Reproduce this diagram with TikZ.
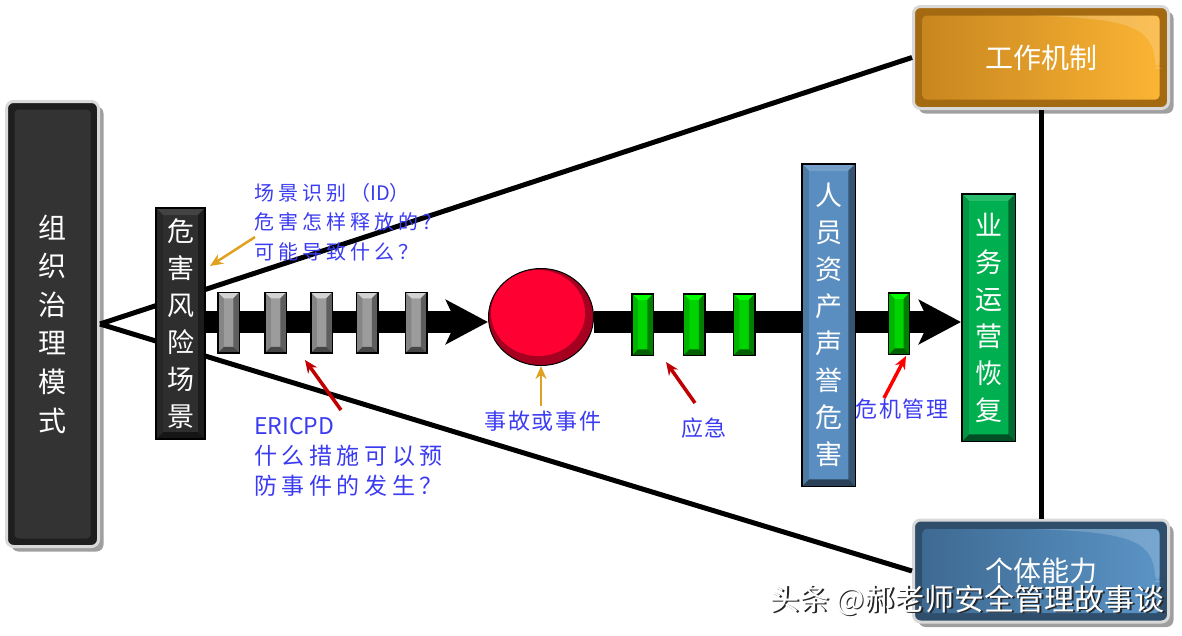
\documentclass[tikz,border=0pt]{standalone}
\usepackage{fontspec}
\newfontfamily\cjk{Noto Sans CJK SC}
\newfontfamily\cjkwide[LetterSpace=20]{Noto Sans CJK SC}
\newfontfamily\cjknarrow[LetterSpace=8]{Noto Sans CJK SC}
\usepackage{tikz}
\usetikzlibrary{arrows.meta,shapes.geometric,shadows}

\definecolor{govdark}{HTML}{1E1E1E}
\definecolor{govface}{HTML}{333333}
\definecolor{mechdark}{HTML}{A36A12}
\definecolor{mechleft}{HTML}{C8861F}
\definecolor{mechright}{HTML}{FBB434}
\definecolor{abilitydark}{HTML}{2E4E6C}
\definecolor{abilityleft}{HTML}{3E6A92}
\definecolor{abilityright}{HTML}{5A94C6}
\definecolor{scenedark}{HTML}{2E2E2E}
\definecolor{barriergray}{HTML}{9C9C9C}
\definecolor{resgreen}{HTML}{00D400}
\definecolor{peopleblue}{HTML}{5B8EC0}
\definecolor{recgreen}{HTML}{00B050}
\definecolor{eventred}{HTML}{FF0033}
\definecolor{labelblue}{HTML}{3B3BF2}
\definecolor{pointerred}{HTML}{C00000}
\definecolor{pointerorange}{HTML}{E0A020}

\tikzset{
  bevel size/.store in=\bv,
  bevel size=7pt,
  bevel/.style n args={2}{
    shape=rectangle,
    draw=black,
    line width=1.5pt,
    fill=#1,
    inner sep=0pt,
    text=white,
    align=center,
    path picture={
      \coordinate (bnw) at (path picture bounding box.north west);
      \coordinate (bne) at (path picture bounding box.north east);
      \coordinate (bsw) at (path picture bounding box.south west);
      \coordinate (bse) at (path picture bounding box.south east);
      \fill[#2] (bnw) -- (bne) -- ([shift={(-\bv,-\bv)}]bne)
        -- ([shift={(\bv,-\bv)}]bnw) -- cycle;
      \fill[#1!60!black] (bne) -- (bse) -- ([shift={(-\bv,\bv)}]bse)
        -- ([shift={(-\bv,-\bv)}]bne) -- cycle;
      \fill[#1!45!black] (bsw) -- (bse) -- ([shift={(-\bv,\bv)}]bse)
        -- ([shift={(\bv,\bv)}]bsw) -- cycle;
      \fill[#1!85!black] (bnw) -- (bsw) -- ([shift={(\bv,\bv)}]bsw)
        -- ([shift={(\bv,-\bv)}]bnw) -- cycle;
    }
  },
  panel/.style n args={3}{
    shape=rectangle,
    rounded corners=7pt,
    draw=gray!30,
    line width=3pt,
    fill=#1,
    minimum width=255pt,
    minimum height=102pt,
    text=white,
    font=\cjk\fontsize{28}{34}\selectfont,
    drop shadow={shadow xshift=5pt, shadow yshift=-5pt, fill=gray!75, opacity=1},
    path picture={
      \coordinate (pne) at (path picture bounding box.north east);
      \shade[left color=#2, right color=#3, rounded corners=4pt]
        ([shift={(9pt,9pt)}]path picture bounding box.south west) rectangle
        ([shift={(-9pt,-9pt)}]pne);
      % page curl highlight
      \fill[white, opacity=0.18] ([shift={(-140pt,-9pt)}]pne)
        .. controls ([shift={(-35pt,-12pt)}]pne) and ([shift={(-16pt,-22pt)}]pne)
        .. ([shift={(-13pt,-62pt)}]pne) -- ([shift={(-9pt,-62pt)}]pne)
        -- ([shift={(-9pt,-9pt)}]pne) -- cycle;
    }
  },
  govbox/.style={
    panel={govdark}{govface}{govface},
    minimum width=92pt,
    minimum height=445pt,
    align=center,
    font=\cjk\fontsize{28}{38.6}\selectfont,
    path picture={
      \fill[govface, rounded corners=4pt]
        ([shift={(8pt,8pt)}]path picture bounding box.south west) rectangle
        ([shift={(-8pt,-8pt)}]path picture bounding box.north east);
    }
  },
  boxtext/.style={
    font=\cjk\fontsize{27}{37}\selectfont
  },
  event/.style={
    ellipse,
    draw=black,
    line width=1pt,
    minimum width=105pt,
    minimum height=97pt,
    inner sep=0pt,
    fill=eventred!65!black,
    path picture={
      \fill[eventred] ([shift={(-3pt,4pt)}]path picture bounding box.center)
        ellipse (47pt and 43pt);
    }
  },
  spine/.style={
    line width=22pt,
    -{Stealth[length=42pt, width=44pt, inset=10pt]}
  },
  tieline/.style={
    line width=5pt
  },
  pointer/.style={
    draw=#1,
    line width=3.5pt,
    -{Stealth[length=13pt, width=11pt]}
  },
  note/.style={
    text=labelblue,
    align=left,
    inner sep=0pt,
    font=\cjkwide\fontsize{20}{29.5}\selectfont
  },
  tag/.style={
    text=labelblue,
    inner sep=0pt,
    font=\cjknarrow\fontsize{22}{26}\selectfont
  },
  watermark/.style={
    inner sep=0pt,
    text=white,
    font=\cjk\fontsize{30}{34}\selectfont
  }
}

\begin{document}
\begin{tikzpicture}[x=1pt, y=-1pt]
  \useasboundingbox (0,0) rectangle (1182,635);
  % outer frame
  \node[govbox] (gov) at (52.5,324) {组\\织\\治\\理\\模\\式};
  \node[panel={mechdark}{mechleft}{mechright}] (mech) at (1041,57.5) {工作机制};
  \node[panel={abilitydark}{abilityleft}{abilityright}] (ability) at (1041,571) {个体能力};
  \draw[tieline] (gov.east) -- (mech.west);
  \draw[tieline] (gov.east) -- (ability.west);
  \draw[tieline] (mech.south) -- (ability.north);

  % timeline
  \node[bevel={scenedark}{scenedark!90!white}, minimum width=49pt, minimum height=231pt, boxtext] (scene) at (180.5,323.5) {危\\害\\风\\险\\场\\景};
  \coordinate (spine) at (0,322);
  \node[event] (event) at (541,317) {};
  \node[bevel={recgreen}{recgreen!85!white}, minimum width=53.5pt, minimum height=247.5pt, boxtext] (recovery) at (988.5,317.5) {业\\务\\运\\营\\恢\\复};
  \draw[spine] (scene.east |- spine) -- (event.west |- spine);
  \draw[spine] (event.east |- spine) -- (recovery.west |- spine);
  \foreach \x [count=\i] in {228.5,275.5,321.5,367,416}
    \node[bevel={barriergray}{barriergray!45!white}, bevel size=6pt, minimum width=21.5pt, minimum height=60.5pt] (barrier\i) at (\x,322.5) {};
  \foreach \x [count=\i] in {642.5,694,744}
    \node[bevel={resgreen}{green}, bevel size=6pt, minimum width=21.5pt, minimum height=61.5pt] (response\i) at (\x,324.5) {};
  \node[bevel={peopleblue}{peopleblue!85!white}, minimum width=53.5pt, minimum height=322.5pt, boxtext] (people) at (828.5,325) {人\\员\\资\\产\\声\\誉\\危\\害};
  \node[bevel={resgreen}{green}, bevel size=6pt, minimum width=21pt, minimum height=61.5pt] (crisis) at (899,323.5) {};

  % labels
  \node[note, anchor=west] (idnote) at (254,222) {场景识别（{\cjk ID}）\\危害怎样释放的?\\可能导致什么？};
  \node[note, anchor=west, font=\cjkwide\fontsize{23}{30}\selectfont] (ericpd) at (254,457) {{\cjk ERICPD}\\什么措施可以预\\防事件的发生？};
  \node[tag] (eventtag) at (543,421) {事故或事件};
  \node[tag] (emergencytag) at (704,428) {应急};
  \node[tag] (crisistag) at (902,409) {危机管理};
  \coordinate (idtail) at (255,237);
  \coordinate (idhead) at (210,266);
  \coordinate (ericpdtail) at (341,410);
  \coordinate (ericpdhead) at (305,360);
  \coordinate (eventtail) at (541,406);
  \coordinate (emergencytail) at (695,403);
  \coordinate (emergencyhead) at (666,362);
  \coordinate (crisistail) at (884,398);
  \coordinate (crisishead) at (906,356);
  \draw[pointer=pointerorange, line width=2.5pt] (idtail) -- (idhead);
  \draw[pointer=pointerred] (ericpdtail) -- (ericpdhead);
  \draw[pointer=pointerorange, line width=2.5pt] (eventtail) -- (event.south);
  \draw[pointer=pointerred] (emergencytail) -- (emergencyhead);
  \draw[pointer=red] (crisistail) -- (crisishead);

  \node[watermark, text=black!85, anchor=east] (watermarkshade) at (1166.5,601.5) {头条 @郝老师安全管理故事谈};
  \node[watermark, anchor=east] (watermarktext) at (1165,600) {头条 @郝老师安全管理故事谈};
\end{tikzpicture}
\end{document}
